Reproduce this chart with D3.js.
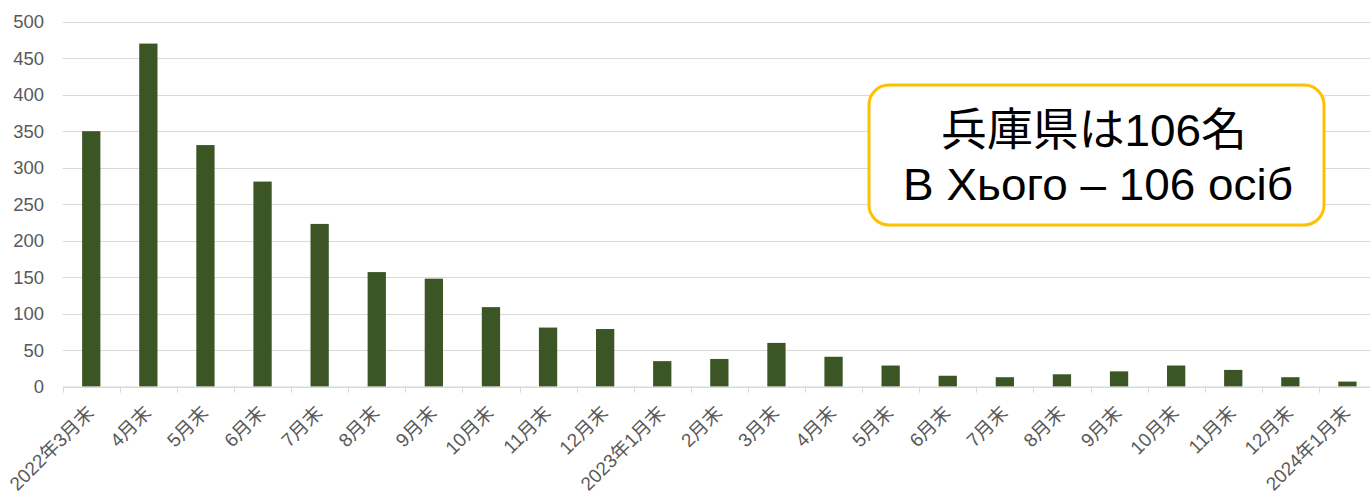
<!DOCTYPE html>
<html>
<head>
<meta charset="utf-8">
<script src="https://cdn.jsdelivr.net/npm/d3@7"></script>
<style>
  html, body { margin: 0; padding: 0; background: #fff; }
  svg { display: block; }
</style>
</head>
<body>
<svg id="chart" width="1370" height="491"></svg>
<script>
const categories = [
  "2022年3月末","4月末","5月末","6月末","7月末","8月末","9月末","10月末","11月末","12月末",
  "2023年1月末","2月末","3月末","4月末","5月末","6月末","7月末","8月末","9月末","10月末","11月末","12月末",
  "2024年1月末"
];
const values = [350,470,331,281,223,157,148,109,81,79,35,38,60,41,29,15,13,17,21,29,23,13,7];
const yTicks = [0,50,100,150,200,250,300,350,400,450,500];
const noteLines = ["兵庫県は106名", "В Хього – 106 осіб"];

(function () {
const svg = d3.select("#chart");
const pLeft = 62.7, pRight = 1376, pTop = 21.7, pBottom = 386.7;
const font = "'Liberation Sans', Arial, 'Noto Sans CJK JP', sans-serif";

const x = d3.scaleBand().domain(d3.range(categories.length)).range([pLeft, pRight])
  .paddingInner(0.68).paddingOuter(0.34);
const y = d3.scaleLinear().domain([0, 500]).range([pBottom, pTop]);
const step = x.step();
const bw = x.bandwidth();

// gridlines
svg.append("g").selectAll("line").data(yTicks.filter(d => d > 0)).join("line")
  .attr("x1", pLeft).attr("x2", 1370)
  .attr("y1", d => Math.round(y(d)) + 0.5).attr("y2", d => Math.round(y(d)) + 0.5)
  .attr("stroke", "#d9d9d9").attr("stroke-width", 1);

// y labels
svg.append("g").selectAll("text").data(yTicks).join("text")
  .attr("x", 44).attr("y", d => y(d)).attr("dy", "0.36em")
  .attr("text-anchor", "end")
  .attr("font-family", font).attr("font-size", 18.5).attr("fill", "#595959")
  .text(d => d);

// bars
svg.append("g").selectAll("rect").data(values).join("rect")
  .attr("x", (d, i) => x(i)).attr("width", bw)
  .attr("y", d => y(d)).attr("height", d => pBottom - y(d))
  .attr("fill", "#3b5624");

// axis line
svg.append("line").attr("x1", pLeft).attr("x2", 1370)
  .attr("y1", pBottom + 0.5).attr("y2", pBottom + 0.5)
  .attr("stroke", "#d9d9d9").attr("stroke-width", 1.5);

// category tick marks (between categories)
const bounds = d3.range(categories.length + 1).map(i => pLeft + i * step);
svg.append("g").selectAll("line").data(bounds).join("line")
  .attr("x1", d => Math.round(d) + 0.5).attr("x2", d => Math.round(d) + 0.5)
  .attr("y1", pBottom).attr("y2", pBottom + 6)
  .attr("stroke", "#d9d9d9").attr("stroke-width", 1);

// x labels
svg.append("g").selectAll("text").data(categories).join("text")
  .attr("transform", (d, i) => `translate(${x(i) + bw / 2 + 4},${414}) rotate(-45)`)
  .attr("text-anchor", "end")
  .attr("font-family", font).attr("font-size", 19).attr("fill", "#595959")
  .text(d => d);

// annotation box
const note = svg.append("g");
note.append("rect").attr("x", 869).attr("y", 85).attr("width", 455).attr("height", 140)
  .attr("rx", 20).attr("ry", 20)
  .attr("fill", "#fff").attr("stroke", "#ffc000").attr("stroke-width", 3);
note.selectAll("text").data(noteLines).join("text")
  .attr("transform", (d, i) => `translate(${i === 0 ? 1094 : 1098},${146 + i * 54}) scale(1.02,1)`)
  .attr("text-anchor", "middle")
  .attr("font-family", font).attr("font-size", 45).attr("fill", "#000")
  .text(d => d);
})();
</script>
</body>
</html>
